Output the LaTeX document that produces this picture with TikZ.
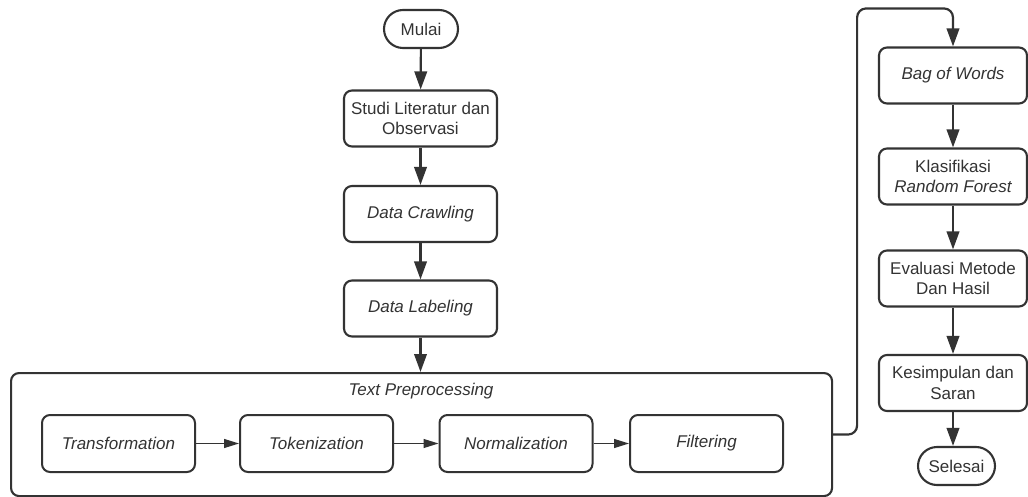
\documentclass[tikz,border=0pt]{standalone}
\usepackage{fontspec}
\setmainfont{Liberation Sans}
\usetikzlibrary{arrows.meta,positioning,calc}
\definecolor{ln}{HTML}{333333}
\definecolor{tx}{HTML}{333333}
\tikzset{
  box/.style={draw=ln, line width=2.1pt, rounded corners=8pt, fill=white, align=center,
    text=tx, font=\fontsize{17}{20.5}\selectfont, inner sep=0pt},
  mainbox/.style={box, minimum width=153pt, minimum height=56pt},
  sidebox/.style={box, minimum width=148pt, minimum height=56pt},
  term/.style={box, rounded corners=19pt, minimum height=38pt},
  inbox/.style={box, line width=2pt, minimum width=153pt, minimum height=57pt},
  flow/.style={draw=ln, line width=2.2pt, -{Triangle[length=18pt,width=12.5pt]}},
  thin/.style={draw=ln, line width=1.2pt, -{Triangle[length=15pt,width=9pt]}},
}
\begin{document}
\begin{tikzpicture}[x=1pt,y=-1pt]
\useasboundingbox (0,0) rectangle (1028,497);
% big container
\node[box, minimum width=821pt, minimum height=123pt, anchor=north west] (tp) at (10,372) {};
\node[text=tx, font=\fontsize{17}{20.5}\selectfont\itshape] (tplabel) at (421,391) {Text Preprocessing};
% left column
\node[term, minimum width=74pt] (mulai) at (421,29) {Mulai};
\node[mainbox] (studi) at (420.5,118.5) {Studi Literatur dan\\Observasi};
\node[mainbox] (crawl) at (420.5,214) {\itshape Data Crawling};
\node[mainbox] (label) at (420.5,308.5) {\itshape Data Labeling};
% inner boxes
\node[inbox] (trans) at (118.5,443.5) {\itshape Transformation};
\node[inbox] (token) at (316.5,443.5) {\itshape Tokenization};
\node[inbox] (norm) at (516,443.5) {\itshape Normalization};
\node[inbox] (filt) at (706.5,443.5) {\itshape Filtering};
% right column
\node[sidebox] (bag) at (953,75.5) {\itshape Bag of Words};
\node[sidebox] (klas) at (953,176.5) {Klasifikasi\\\itshape Random Forest};
\node[sidebox] (eval) at (953,278.5) {Evaluasi Metode\\Dan Hasil};
\node[sidebox] (kes) at (953,383) {Kesimpulan dan\\Saran};
\node[term, minimum width=77pt] (selesai) at (956.5,466) {Selesai};
% connectors
\draw[flow] (mulai) -- (studi);
\draw[flow] (studi) -- (crawl);
\draw[flow] (crawl) -- (label);
\draw[flow] (label.south) -- (label.south |- tp.north);
\draw[thin] (trans) -- (token);
\draw[thin] (token) -- (norm);
\draw[thin] (norm) -- (filt);
\draw[flow, rounded corners=9pt] (tp.east) -- ++(24,0) |- ([yshift=38pt]bag.north) -- (bag.north);
\draw[flow] (bag) -- (klas);
\draw[flow] (klas) -- (eval);
\draw[flow] (eval) -- (kes);
\draw[flow] (kes.south) -- (kes.south |- selesai.north);
\end{tikzpicture}
\end{document}
